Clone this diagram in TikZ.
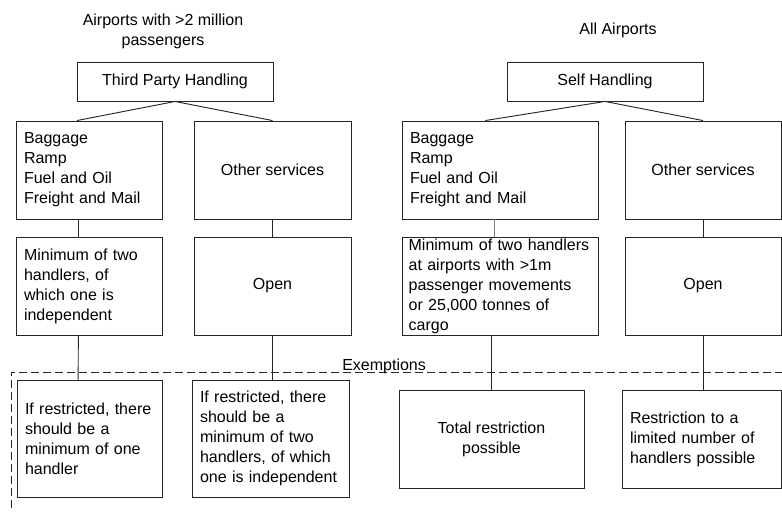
\documentclass[tikz,border=0pt]{standalone}
\usepackage{fontspec}
\setmainfont{Liberation Sans}
\usetikzlibrary{positioning}
\tikzset{
  box/.style={rectangle, draw=black!85, line width=0.7pt, fill=white, inner sep=0pt, align=center},
  leftBox/.style={box, align=left, inner xsep=6pt, text width=#1},
%  grayLink/.style={draw=black!50},
  link/.style={draw=black!85, line width=0.7pt},
  exemptLine/.style={draw=black!85, line width=0.7pt, dash pattern=on 6pt off 3pt}
}

\begin{document}
\begin{tikzpicture}[x=0.75pt, y=-0.75pt, font=\fontsize{12}{15}\selectfont]
      \useasboundingbox (0,0) rectangle (782,512);

      \node[align=center] (bigTitle) at (163,31.5) {Airports with >2 million\\passengers};
      \node (allTitle) at (618,30) {All Airports};

      \node[box, minimum width=147pt, minimum height=29.25pt] (tph) at (175,81.5) {Third Party Handling};
      \node[box, minimum width=147pt, minimum height=29.25pt] (sh) at (605,81.5) {Self Handling};

      \node[leftBox=97.5pt, minimum height=73.5pt] (lbag) at (89,170) {Baggage\\Ramp\\Fuel and Oil\\Freight and Mail};
      \node[box, minimum width=117.75pt, minimum height=73.5pt] (lother) at (272.5,170) {Other services};
      \node[leftBox=135pt, minimum height=73.5pt] (rbag) at (500,170) {Baggage\\Ramp\\Fuel and Oil\\Freight and Mail};
      \node[box, minimum width=117pt, minimum height=73.5pt] (rother) at (703,170) {Other services};

      \node[leftBox=97.5pt, minimum height=73.5pt] (lmin) at (89,286) {Minimum of two\\handlers, of\\which one is\\independent};
      \node[box, minimum width=117.75pt, minimum height=73.5pt] (lopen) at (272.5,286) {Open};
      \node[leftBox=137pt, inner xsep=5pt, minimum height=73.5pt] (rmin) at (500,286) {\mbox{Minimum of two handlers}\\at airports with >1m\\passenger movements\\or 25,000 tonnes of\\cargo};
      \node[box, minimum width=117pt, minimum height=73.5pt] (ropen) at (703,286) {Open};

      \node[leftBox=96.75pt, minimum height=87.75pt] (lres) at (89.5,438.5) {If restricted, there\\should be a\\minimum of one\\handler};
      \node[leftBox=105.75pt, minimum height=87.75pt] (lres2) at (270.5,438.5) {If restricted, there\\should be a\\minimum of two\\handlers, of which\\one is independent};
      \node[box, minimum width=138.75pt, minimum height=73.5pt] (rtot) at (491.5,439) {Total restriction\\possible};
      \node[leftBox=107.25pt, minimum height=73.5pt] (rres) at (701.5,439) {Restriction to a\\limited number of\\handlers possible};

      \draw[link] (tph.south) -- ([xshift=-9pt]lbag.north);
      \draw[link] (tph.south) -- (lother.north);
      \draw[link] (sh.south) -- ([xshift=-11pt]rbag.north);
      \draw[link] (sh.south) -- (rother.north);

      \draw[link] ([xshift=-8pt]lbag.south) -- ([xshift=-8pt]lmin.north);
      \draw[link] (lother.south) -- (lopen.north);
      \draw[link, draw=black!50] ([xshift=-4.5pt]rbag.south) -- ([xshift=-4.5pt]rmin.north);
      \draw[link] (rother.south) -- (ropen.north);

      \draw[link] ([xshift=-8pt]lmin.south) -- ([xshift=-8.5pt]lres.north);
      \draw[link] (lopen.south) -- (lopen.south |- lres2.north);
      \draw[link] (rtot.north |- rmin.south) -- (rtot.north);
      \draw[link] (ropen.south) -- (ropen.south |- rres.north);

      % exemptions
      \coordinate (exLow) at (11,508);
      \coordinate (exCorner) at (11,372);
      \coordinate (exEnd) at (782,372);
      \draw[exemptLine] (exLow) -- (exCorner) -- (exEnd);
      \node[anchor=base west, inner sep=0pt] (exempt) at (342,370) {Exemptions};

\end{tikzpicture}
\end{document}
